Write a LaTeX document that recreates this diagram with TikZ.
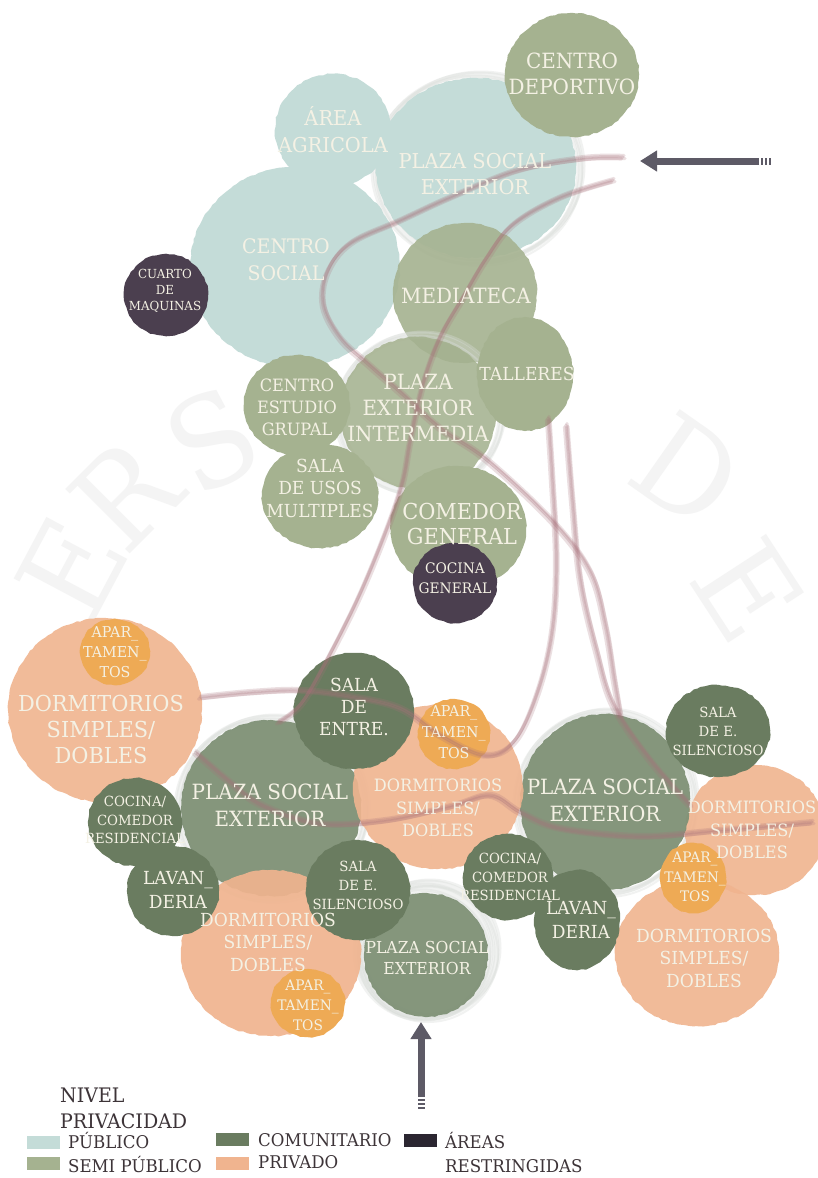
\documentclass[tikz,border=0pt]{standalone}
\usepackage{fontspec}
\setmainfont{DejaVu Serif}[FakeStretch=0.95]
\usetikzlibrary{arrows.meta,decorations.pathmorphing}

\definecolor{publico}{HTML}{C4DCD8}
\definecolor{semipub}{HTML}{A5B290}
\definecolor{comun}{HTML}{6A7C60}
\definecolor{plazac}{HTML}{7F9176}
\definecolor{privado}{HTML}{F0B48F}
\definecolor{apto}{HTML}{EEAA55}
\definecolor{restr}{HTML}{4B3F4F}
\definecolor{restrkey}{HTML}{2B2631}
\definecolor{labelc}{HTML}{F4F1E4}
\definecolor{flowc}{HTML}{A8707A}
\definecolor{arrowc}{HTML}{5D5A66}
\definecolor{legendc}{HTML}{3D3438}
\definecolor{haloc}{HTML}{D8DCD8}
\definecolor{markc}{HTML}{F4F4F4}

\newcommand\fsz[2]{\fontsize{#1}{#2}\selectfont}
% painted disc: [opacity]{colour}{x}{y}{x radius}{y radius}
\newcommand\blob[6][1]{\fill[fill=#2, fill opacity=#1, decorate,
  decoration={random steps,segment length=4pt,amplitude=0.7pt}]
  (#3,#4) ellipse [x radius=#5, y radius=#6];}
% soft brushed ring: {x}{y}{x radius}{y radius}
\newcommand\ring[4]{%
  \foreach \ox/\oy/\w in {0/0/5, 3/-2/3, -3/2/3, 1/4/2}{
    \draw[halo, line width=\w pt] (#1+\ox,#2+\oy) ellipse [x radius=#3, y radius=#4];}}

\begin{document}
\begin{tikzpicture}[x=1pt,y=-1pt,
  lab/.style={text=labelc, align=center, inner sep=0pt},
  flow/.style={draw=flowc, line width=3.2pt, draw opacity=0.22, line cap=round},
  halo/.style={draw=haloc, draw opacity=0.35},
  entry/.style={draw=arrowc, line width=7pt, -{Triangle[length=17pt,width=20pt]}},
  legendtxt/.style={text=legendc, anchor=base west, inner sep=0pt, font=\fsz{17.5}{20}},
  swatch/.style={minimum width=33pt, minimum height=13pt, inner sep=0pt},
  wm/.style={text=markc, font=\fsz{125}{125}, inner sep=0pt}]
\pgfmathsetseed{7}
\useasboundingbox (0,0) rectangle (817,1178);
\fill[white] (0,0) rectangle (817,1178);

% faint lettering in the background
\node[wm, rotate=62] (wmE1) at (72,568) {E};
\node[wm, rotate=45] (wmR) at (125,495) {R};
\node[wm, rotate=28] (wmS) at (212,440) {S};
\node[wm, rotate=-35] (wmD) at (688,470) {D};
\node[wm, rotate=-57] (wmE2) at (748,590) {E};

% ---------- upper group ----------
\ring{478}{168}{103}{94}
\blob{publico}{476}{168}{100}{90}
\blob{publico}{295}{267}{105}{100}
\blob{publico}{333}{130}{58}{56}
\blob{semipub}{572}{75}{67}{62}
\blob{restr}{166}{295}{42}{41}
\blob[0.9]{semipub}{465}{293}{72}{70}
\ring{420}{413}{82}{79}
\blob[0.88]{semipub}{418}{413}{78}{76}
\blob{semipub}{525}{374}{48}{57}
\blob{semipub}{297}{405}{53}{50}
\blob{semipub}{320}{496}{58}{52}
\blob{semipub}{458}{528}{68}{62}
\blob{restr}{455}{583}{42}{40}

% ---------- lower group ----------
\ring{272}{808}{94}{91}
\ring{606}{802}{89}{91}
\ring{427}{950}{70}{68}
\ring{425}{952}{64}{64}
\blob[0.9]{privado}{105}{710}{97}{92}
\blob{apto}{115}{652}{35}{33}
\blob[0.95]{plazac}{271}{808}{90}{88}
\blob[0.9]{privado}{755}{830}{70}{65}
\blob[0.95]{plazac}{605}{802}{85}{88}
\blob[0.9]{privado}{438}{787}{85}{82}
\blob{comun}{354}{711}{60}{58}
\blob{apto}{454}{734}{36}{35}
\blob{comun}{135}{822}{47}{44}
\blob[0.95]{plazac}{426}{955}{62}{62}
\blob[0.92]{privado}{271}{953}{90}{83}
\blob{comun}{173}{891}{46}{45}
\blob{comun}{358}{890}{52}{50}
\blob{apto}{308}{1003}{37}{34}
\blob[0.9]{privado}{697}{953}{82}{73}
\blob{comun}{508}{877}{45}{43}
\blob{comun}{577}{920}{43}{50}
\blob{comun}{718}{731}{52}{46}
\blob{apto}{693}{878}{33}{35}

% ---------- circulation paths ----------
\foreach \dx/\dy in {0/0, 2/1.5, -1.5/2, 1/-1.5}{
  \begin{scope}[shift={(\dx,\dy)}]
  \draw[flow] plot[smooth, tension=0.6] coordinates {(623,157) (583,158) (517,170) (450,197) (400,220) (350,243) (327,272) (323,305) (340,338) (368,364) (400,392) (440,428) (487,460) (553,522) (590,572) (605,625) (614,680) (620,715)};
  \draw[flow] plot[smooth, tension=0.6] coordinates {(613,180) (560,197) (513,224) (487,257) (463,297) (440,337) (423,383) (410,440) (402,483) (385,533) (357,600) (323,667) (300,705) (278,722)};
  \draw[flow] plot[smooth, tension=0.6] coordinates {(548,418) (552,480) (556,560) (552,630) (538,690) (515,740) (485,755) (440,735) (400,708) (350,696) (300,690) (250,692) (200,697)};
  \draw[flow] plot[smooth, tension=0.6] coordinates {(566,425) (572,500) (580,580) (596,650) (613,705) (650,760) (690,805)};
  \draw[flow] plot[smooth, tension=0.6] coordinates {(195,752) (230,782) (262,805) (318,823) (385,820) (450,806) (490,795) (520,812) (560,828) (640,836) (720,830) (812,822)};
  \end{scope}
}

% ---------- labels ----------
\node[lab, font=\fsz{21}{26}] (lDep) at (572,74) {CENTRO\\DEPORTIVO};
\node[lab, font=\fsz{20.5}{27}] (lAgr) at (333,130) {ÁREA\\AGRICOLA};
\node[lab, font=\fsz{20.5}{25.5}] (lPlT) at (475,174) {PLAZA SOCIAL\\EXTERIOR};
\node[lab, font=\fsz{20}{27}] (lCSo) at (286,260) {CENTRO\\SOCIAL};
\node[lab, font=\fsz{12.5}{16}] (lCua) at (165,291) {CUARTO\\DE\\MAQUINAS};
\node[lab, font=\fsz{21}{24}] (lMed) at (466,296) {MEDIATECA};
\node[lab, font=\fsz{18}{22}] (lTal) at (527,374) {TALLERES};
\node[lab, font=\fsz{17}{22}] (lEst) at (297,407) {CENTRO\\ESTUDIO\\GRUPAL};
\node[lab, font=\fsz{21}{26}] (lInt) at (418,408) {PLAZA\\EXTERIOR\\INTERMEDIA};
\node[lab, font=\fsz{18}{22.5}] (lUso) at (320,488) {SALA\\DE USOS\\MULTIPLES};
\node[lab, font=\fsz{22}{24.5}] (lCom) at (462,524) {COMEDOR\\GENERAL};
\node[lab, font=\fsz{14.5}{19.5}] (lCoc) at (455,578) {COCINA\\GENERAL};

\node[lab, font=\fsz{15}{20}] (lAp1) at (115,652) {APAR\_\\TAMEN\_\\TOS};
\node[lab, font=\fsz{22}{26}] (lDoL) at (101,729) {DORMITORIOS\\SIMPLES/\\DOBLES};
\node[lab, font=\fsz{18}{22}] (lEnt) at (354,707) {SALA\\DE\\ENTRE.};
\node[lab, font=\fsz{15}{21}] (lAp2) at (454,732) {APAR\_\\TAMEN\_\\TOS};
\node[lab, font=\fsz{17}{22.5}] (lDoM) at (438,808) {DORMITORIOS\\SIMPLES/\\DOBLES};
\node[lab, font=\fsz{21}{27}] (lPlL) at (270,805) {PLAZA SOCIAL\\EXTERIOR};
\node[lab, font=\fsz{21}{27}] (lPlR) at (605,800) {PLAZA SOCIAL\\EXTERIOR};
\node[lab, font=\fsz{14}{19}] (lSiR) at (718,731) {SALA\\DE E.\\SILENCIOSO};
\node[lab, font=\fsz{17}{22.5}] (lDoR) at (752,830) {DORMITORIOS\\SIMPLES/\\DOBLES};
\node[lab, font=\fsz{14.5}{19.5}] (lAp3) at (695,877) {APAR\_\\TAMEN\_\\TOS};
\node[lab, font=\fsz{18}{22.5}] (lDoB) at (704,958) {DORMITORIOS\\SIMPLES/\\DOBLES};
\node[lab, font=\fsz{18}{24}] (lLaR) at (581,920) {LAVAN\_\\DERIA};
\node[lab, font=\fsz{14}{18.5}] (lCoM) at (510,877) {COCINA/\\COMEDOR\\RESIDENCIAL};
\node[lab, font=\fsz{16.5}{21}] (lPlB) at (427,958) {PLAZA SOCIAL\\EXTERIOR};
\node[lab, font=\fsz{14}{19}] (lSiM) at (358,885) {SALA\\DE E.\\SILENCIOSO};
\node[lab, font=\fsz{18}{22.5}] (lDoBL) at (268,942) {DORMITORIOS\\SIMPLES/\\DOBLES};
\node[lab, font=\fsz{14.5}{20}] (lApBL) at (308,1005) {APAR\_\\TAMEN\_\\TOS};
\node[lab, font=\fsz{18}{24}] (lLaL) at (178,890) {LAVAN\_\\DERIA};
\node[lab, font=\fsz{14}{18.5}] (lCoL) at (135,820) {COCINA/\\COMEDOR\\RESIDENCIAL};

% ---------- entrances ----------
\coordinate (eTopTail) at (759,161);
\coordinate (eTopTip) at (640,161);
\draw[entry] (eTopTail) -- (eTopTip);
\foreach \k in {0,1,2} \fill[arrowc] (761+4*\k,157.5) rectangle ++(2.2,7);
\coordinate (eBotTail) at (421,1097);
\coordinate (eBotTip) at (421,1022);
\draw[entry] (eBotTail) -- (eBotTip);
\foreach \k in {0,1,2} \fill[arrowc] (417.5,1099+4*\k) rectangle ++(7,2.2);

% ---------- legend ----------
\node[legendtxt, font=\fsz{20}{22}] (kTitle1) at (60,1102) {NIVEL};
\node[legendtxt, font=\fsz{20}{22}] (kTitle2) at (60,1128) {PRIVACIDAD};
\node[swatch, fill=publico] (kPub) at (43.5,1142) {};
\node[legendtxt] (tPub) at (68,1148) {PÚBLICO};
\node[swatch, fill=semipub] (kSemi) at (43.5,1163) {};
\node[legendtxt] (tSemi) at (68,1172) {SEMI PÚBLICO};
\node[swatch, fill=comun] (kCom) at (232.5,1139) {};
\node[legendtxt] (tCom) at (258,1146) {COMUNITARIO};
\node[swatch, fill=privado] (kPriv) at (232.5,1163) {};
\node[legendtxt] (tPriv) at (258,1168) {PRIVADO};
\node[swatch, fill=restrkey] (kRes) at (420,1140.5) {};
\node[legendtxt] (tRes1) at (445,1148) {ÁREAS};
\node[legendtxt] (tRes2) at (445,1172) {RESTRINGIDAS};
\end{tikzpicture}
\end{document}
